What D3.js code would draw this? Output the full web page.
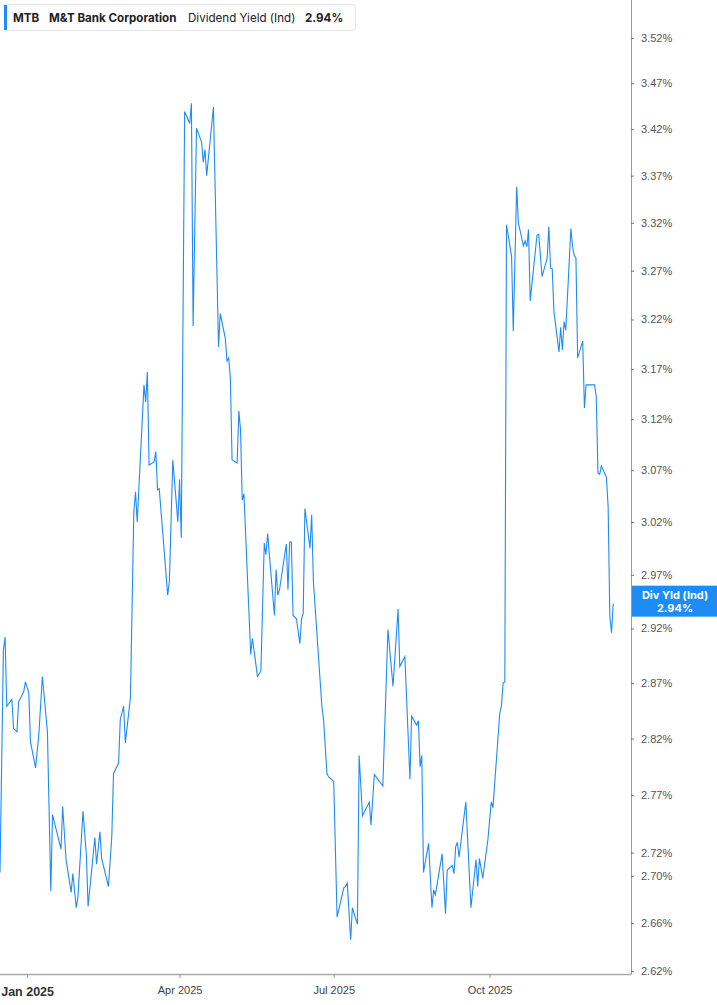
<!DOCTYPE html>
<meta charset="utf-8">
<title>MTB Dividend Yield</title>
<style>
  body { margin: 0; background: #fff; }
  svg { display: block; font-family: Inter, "Noto Sans", sans-serif; }
</style>
<div id="viz"></div>
<script src="https://cdnjs.cloudflare.com/ajax/libs/d3/7.8.5/d3.min.js"></script>
<script>

var ticker = "MTB";
var company = "M&T Bank Corporation";
var metric = "Dividend Yield (Ind)";
var metricShort = "Div Yld (Ind)";

var dates = [
  "2024-12-16","2024-12-18","2024-12-19","2024-12-20","2024-12-23","2024-12-24","2024-12-26","2024-12-27","2024-12-30","2024-12-31",
  "2025-01-02","2025-01-03","2025-01-06","2025-01-08","2025-01-10","2025-01-13","2025-01-15","2025-01-16","2025-01-21","2025-01-22",
  "2025-01-24","2025-01-27","2025-01-28","2025-01-30","2025-01-31","2025-02-03","2025-02-05","2025-02-06","2025-02-10","2025-02-11",
  "2025-02-13","2025-02-14","2025-02-18","2025-02-20","2025-02-21","2025-02-24","2025-02-25","2025-02-27","2025-02-28","2025-03-03",
  "2025-03-05","2025-03-06","2025-03-07","2025-03-11","2025-03-12","2025-03-13","2025-03-14","2025-03-17","2025-03-18","2025-03-19",
  "2025-03-20","2025-03-25","2025-03-26","2025-03-28","2025-03-31","2025-04-01","2025-04-02","2025-04-04","2025-04-07","2025-04-08",
  "2025-04-09","2025-04-11","2025-04-14","2025-04-15","2025-04-16","2025-04-17","2025-04-21","2025-04-24","2025-04-25","2025-04-28",
  "2025-04-29","2025-04-30","2025-05-01","2025-05-02","2025-05-05","2025-05-06","2025-05-07","2025-05-08","2025-05-09","2025-05-13",
  "2025-05-14","2025-05-17","2025-05-19","2025-05-21","2025-05-22","2025-05-23","2025-05-27","2025-05-28","2025-05-29","2025-05-30",
  "2025-06-03","2025-06-04","2025-06-05","2025-06-06","2025-06-07","2025-06-09","2025-06-11","2025-06-12","2025-06-13","2025-06-14",
  "2025-06-17","2025-06-18","2025-06-19","2025-06-24","2025-06-25","2025-06-27","2025-06-28","2025-07-01","2025-07-03","2025-07-07",
  "2025-07-08","2025-07-09","2025-07-11","2025-07-12","2025-07-15","2025-07-16","2025-07-18","2025-07-22","2025-07-23","2025-07-25",
  "2025-07-30","2025-08-02","2025-08-05","2025-08-08","2025-08-09","2025-08-12","2025-08-15","2025-08-16","2025-08-19","2025-08-20",
  "2025-08-21","2025-08-22","2025-08-23","2025-08-26","2025-08-28","2025-08-29","2025-08-30","2025-09-03","2025-09-05","2025-09-06",
  "2025-09-09","2025-09-10","2025-09-11","2025-09-12","2025-09-13","2025-09-17","2025-09-20","2025-09-23","2025-09-24","2025-09-25",
  "2025-09-27","2025-09-30","2025-10-02","2025-10-03","2025-10-07","2025-10-08","2025-10-09","2025-10-10","2025-10-11","2025-10-14",
  "2025-10-15","2025-10-17","2025-10-18","2025-10-21","2025-10-22","2025-10-23","2025-10-24","2025-10-25","2025-10-29","2025-10-30",
  "2025-11-01","2025-11-04","2025-11-05","2025-11-06","2025-11-07","2025-11-08","2025-11-11","2025-11-12","2025-11-13","2025-11-14",
  "2025-11-15","2025-11-18","2025-11-19","2025-11-20","2025-11-21","2025-11-22","2025-11-25","2025-11-26","2025-11-27","2025-12-02",
  "2025-12-03","2025-12-04","2025-12-05","2025-12-06","2025-12-09","2025-12-10","2025-12-11","2025-12-12","2025-12-13"
];

// dividend yield, percent
var values = [
  2.703, 2.900, 2.912, 2.849, 2.855, 2.829, 2.826, 2.853, 2.862, 2.871,
  2.861, 2.817, 2.794, 2.825, 2.876, 2.826, 2.687, 2.753, 2.723, 2.760,
  2.714, 2.686, 2.702, 2.673, 2.682, 2.756, 2.718, 2.674, 2.733, 2.710,
  2.738, 2.715, 2.691, 2.734, 2.789, 2.798, 2.837, 2.849, 2.816, 2.857,
  3.030, 3.049, 3.020, 3.154, 3.137, 3.167, 3.075, 3.078, 3.088, 3.051,
  3.052, 2.951, 2.964, 3.080, 3.020, 3.061, 3.005, 3.439, 3.426, 3.448,
  3.213, 3.421, 3.406, 3.384, 3.398, 3.370, 3.444, 3.192, 3.226, 3.201,
  3.178, 3.181, 3.161, 3.080, 3.077, 3.128, 3.109, 3.041, 3.047, 2.896,
  2.911, 2.876, 2.881, 3.000, 2.989, 3.009, 2.932, 2.975, 2.951, 2.956,
  2.999, 2.956, 3.001, 3.001, 2.932, 2.929, 2.906, 2.929, 2.934, 3.033,
  2.995, 3.027, 2.964, 2.849, 2.837, 2.789, 2.786, 2.782, 2.665, 2.690,
  2.691, 2.694, 2.646, 2.673, 2.659, 2.805, 2.752, 2.764, 2.744, 2.788,
  2.778, 2.919, 2.867, 2.938, 2.885, 2.894, 2.784, 2.840, 2.832, 2.836,
  2.795, 2.805, 2.703, 2.728, 2.673, 2.688, 2.684, 2.719, 2.668, 2.705,
  2.709, 2.702, 2.725, 2.729, 2.716, 2.764, 2.673, 2.714, 2.691, 2.715,
  2.698, 2.731, 2.764, 2.759, 2.842, 2.849, 2.870, 2.871, 3.318, 3.285,
  3.208, 3.358, 3.320, 3.296, 3.301, 3.295, 3.313, 3.239, 3.307, 3.308,
  3.264, 3.283, 3.316, 3.273, 3.272, 3.228, 3.187, 3.212, 3.189, 3.218,
  3.209, 3.314, 3.295, 3.286, 3.283, 3.181, 3.198, 3.131, 3.154, 3.154,
  3.142, 3.067, 3.066, 3.074, 3.063, 3.035, 2.931, 2.916, 2.943
];

var yTicks = [3.52, 3.47, 3.42, 3.37, 3.32, 3.27, 3.22, 3.17, 3.12, 3.07,
              3.02, 2.97, 2.92, 2.87, 2.82, 2.77, 2.72, 2.70, 2.66, 2.62];
var xTicks = ["2025-01-01", "2025-04-01", "2025-07-01", "2025-10-01"];

var width = 717;
var height = 1005;
var plotW = 631;
var plotH = 974;
var blue = "#1e8cf5";

var parse = d3.timeParse("%Y-%m-%d");
var data = dates.map(function(d, i) { return { date: parse(d), value: values[i] }; });

var x = d3.scaleTime()
  .domain([new Date(2024, 11, 16), new Date(2025, 11, 23, 12)])
  .range([0, plotW]);

var y = d3.scaleLog()
  .domain([2.6175, 3.5626])
  .range([plotH, 0]);

var svg = d3.select("#viz")
  .append("svg")
  .attr("width", width)
  .attr("height", height);

svg.append("clipPath")
  .attr("id", "clip")
  .append("rect")
  .attr("width", plotW)
  .attr("height", plotH);

// line
var line = d3.line()
  .x(function(d) { return x(d.date); })
  .y(function(d) { return y(d.value); });

svg.append("path")
  .datum(data)
  .attr("clip-path", "url(#clip)")
  .attr("fill", "none")
  .attr("stroke", blue)
  .attr("stroke-width", 1.1)
  .attr("d", line);

// right axis
var yAxis = d3.axisRight(y)
  .tickValues(yTicks)
  .tickSize(3)
  .tickPadding(7)
  .tickFormat(function(d) { return d.toFixed(2) + "%"; });

var gy = svg.append("g")
  .attr("transform", "translate(" + plotW + ",0)")
  .call(yAxis);
gy.select(".domain").attr("stroke", "#9a9a9a").attr("d", "M0.5,0V" + (plotH + 0.5));
gy.selectAll(".tick line").attr("stroke", "#777");
gy.selectAll(".tick text")
  .attr("fill", "#555")
  .style("font-size", "11px");

// bottom axis
var xAxis = d3.axisBottom(x)
  .tickValues(xTicks.map(parse))
  .tickSize(4)
  .tickPadding(8)
  .tickFormat(function(d) { return d3.timeFormat("%b %Y")(d); });

var gx = svg.append("g")
  .attr("transform", "translate(0," + plotH + ")")
  .call(xAxis);
gx.select(".domain").attr("stroke", "#aaa").attr("stroke-width", 1.5).attr("d", "M0,0.5H" + plotW);
gx.selectAll(".tick line").attr("stroke", "#999");
gx.selectAll(".tick text")
  .attr("fill", "#444")
  .style("font-size", "11px");
gx.selectAll(".tick text")
  .filter(function(d) { return d.getMonth() === 0; })
  .attr("fill", "#333")
  .style("font-size", "12.5px")
  .style("font-weight", "bold")
  .attr("dy", "0.82em");

// last value tag on the axis
var last = values[values.length - 1];
var tag = svg.append("g")
  .attr("transform", "translate(" + (plotW + 1) + "," + y(last) + ")");
tag.append("rect")
  .attr("x", 0)
  .attr("y", -18)
  .attr("width", width - plotW - 1)
  .attr("height", 31)
  .attr("fill", blue);
tag.append("text")
  .attr("x", 43)
  .attr("y", -5)
  .attr("text-anchor", "middle")
  .attr("fill", "#fff")
  .style("font-size", "11px")
  .style("font-weight", "bold")
  .text(metricShort);
tag.append("text")
  .attr("x", 43)
  .attr("y", 8)
  .attr("text-anchor", "middle")
  .attr("fill", "#fff")
  .style("font-size", "11px")
  .style("font-weight", "bold")
  .text(last.toFixed(2) + "%");

// legend box
var legend = svg.append("g");
legend.append("rect")
  .attr("x", 4.5)
  .attr("y", 4.5)
  .attr("width", 351)
  .attr("height", 26)
  .attr("rx", 3)
  .attr("fill", "#fff")
  .attr("stroke", "#e6e6e6");
legend.append("rect")
  .attr("x", 4)
  .attr("y", 5)
  .attr("width", 3)
  .attr("height", 25)
  .attr("fill", blue);

var legendItems = [
  { text: ticker, x: 13, bold: true },
  { text: company, x: 49, bold: true },
  { text: metric, x: 188, bold: false },
  { text: last.toFixed(2) + "%", x: 305, bold: true }
];
legend.selectAll("text.item")
  .data(legendItems)
  .enter().append("text")
  .attr("class", "item")
  .attr("x", function(d) { return d.x; })
  .attr("y", 21.5)
  .attr("fill", "#222")
  .style("font-size", "11.6px")
  .style("font-weight", function(d) { return d.bold ? "bold" : "normal"; })
  .text(function(d) { return d.text; });

</script>
